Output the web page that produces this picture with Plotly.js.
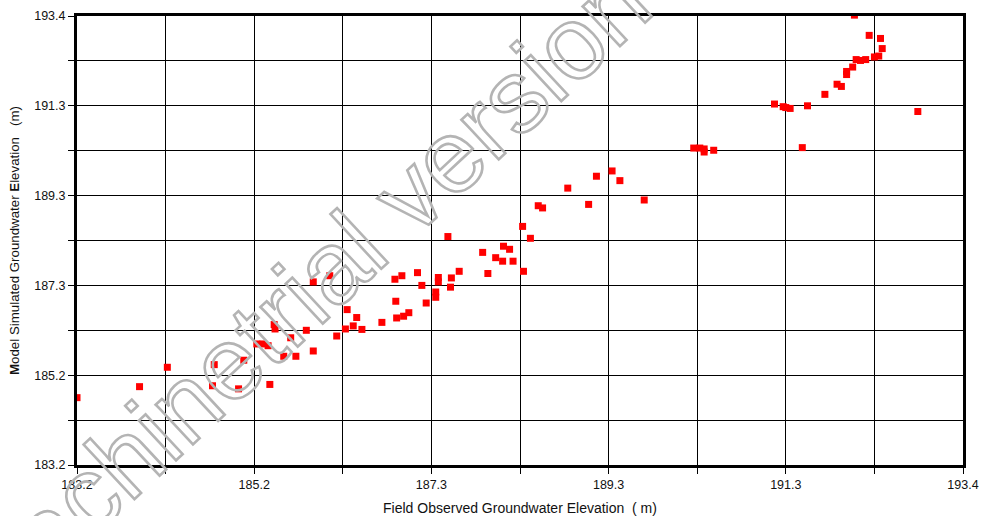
<!DOCTYPE html>
<html>
<head>
<meta charset="utf-8">
<script src="https://cdn.plot.ly/plotly-3.0.1.min.js"></script>
<style>
  html, body { margin: 0; padding: 0; background: #fff; }
  #chart { width: 982px; height: 516px; }
  .annotation-text { fill: none !important; stroke: #b4b4b4 !important; stroke-width: 2.6px !important; }
</style>
</head>
<body>
<div id="chart"></div>
<script>
// Field observed groundwater elevation (m)
const observed = [
  183.20, 183.92, 184.24, 184.76, 184.78, 185.06, 185.12, 185.27, 185.34, 185.40,
  185.42, 185.47, 185.48, 185.58, 185.66, 185.72, 185.84, 185.92, 185.92, 186.11,
  186.19, 186.29, 186.31, 186.38, 186.42, 186.48, 186.71, 186.86, 186.94, 186.87,
  186.88, 186.96, 187.02, 187.12, 187.17, 187.22, 187.33, 187.33, 187.36, 187.36,
  187.47, 187.50, 187.51, 187.60, 187.87, 187.93, 188.02, 188.10, 188.11, 188.18,
  188.22, 188.33, 188.34, 188.42, 188.51, 188.56, 188.85, 189.09, 189.18, 189.36,
  189.45, 189.73, 190.30, 190.37, 190.42, 190.42, 190.53, 191.23, 191.33, 191.36,
  191.41, 191.55, 191.61, 191.81, 191.95, 192.00, 192.06, 192.06, 192.13, 192.17,
  192.22, 192.28, 192.38, 192.43, 192.32, 192.45, 192.47, 192.15, 192.88
];
// Model simulated groundwater elevation (m)
const simulated = [
  184.73, 184.98, 185.42, 185.00, 185.48, 184.93, 185.58, 185.95, 185.95, 185.91,
  185.03, 186.39, 186.29, 185.67, 186.09, 185.67, 186.26, 185.79, 187.36, 187.50,
  186.13, 186.29, 186.73, 186.36, 186.55, 186.28, 186.44, 187.42, 187.50, 186.92,
  186.54, 186.58, 186.66, 187.57, 187.28, 186.88, 187.13, 187.01, 187.46, 187.36,
  188.39, 187.24, 187.45, 187.60, 188.03, 187.55, 187.91, 187.83, 188.17, 188.10,
  187.83, 188.62, 187.60, 188.35, 189.09, 189.04, 189.49, 189.12, 189.76, 189.88,
  189.66, 189.22, 190.40, 190.40, 190.38, 190.31, 190.35, 191.40, 191.34, 191.32,
  191.30, 190.41, 191.36, 191.62, 191.85, 191.80, 192.14, 192.07, 192.24, 192.41,
  192.39, 192.41, 192.47, 192.49, 192.96, 192.89, 192.66, 193.42, 191.23
];
// Axis gridline positions and tick labels
const gridVals = [183.2, 184.22, 185.24, 186.26, 187.28, 188.3, 189.32, 190.34, 191.36, 192.38, 193.4];
const gridText = ['183.2', '', '185.2', '', '187.3', '', '189.3', '', '191.3', '', '193.4'];
const axisRange = [183.2, 193.4];
const xTitle = 'Field Observed Groundwater Elevation\u00a0\u00a0(\u00a0m)';
const yTitle = '<b>M</b>odel Simulated Groundwater <b>E</b>levation\u00a0\u00a0\u00a0(m)';
const watermark = 'machinetrial version';

const font = 'Liberation Sans, Arial, sans-serif';

const axisBase = {
  range: axisRange,
  tickmode: 'array',
  tickvals: gridVals,
  ticktext: gridText,
  showgrid: true,
  gridcolor: '#000',
  gridwidth: 1,
  zeroline: false,
  showline: true,
  linecolor: '#000',
  linewidth: 3,
  mirror: true,
  ticks: 'outside',
  ticklen: 6,
  tickwidth: 1,
  tickcolor: '#000',
  tickfont: {family: font, size: 12.5, color: '#111'},
  fixedrange: true
};

const trace = {
  type: 'scatter',
  mode: 'markers',
  x: observed,
  y: simulated,
  marker: {symbol: 'square', size: 7, color: '#ff0000', line: {width: 0}},
  cliponaxis: true,
  hoverinfo: 'x+y'
};

const layout = {
  width: 982,
  height: 516,
  margin: {l: 77, r: 19, t: 16, b: 51},
  paper_bgcolor: '#fff',
  plot_bgcolor: '#fff',
  showlegend: false,
  xaxis: Object.assign({}, axisBase, {
    title: {text: xTitle, font: {family: font, size: 14, color: '#111'}, standoff: 13}
  }),
  yaxis: Object.assign({}, axisBase, {
    title: {text: yTitle, font: {family: font, size: 13.3, color: '#111'}, standoff: 12}
  }),
  annotations: [{
    xref: 'paper', yref: 'paper',
    x: 0.249, y: 0.370,
    xanchor: 'center', yanchor: 'middle',
    text: watermark,
    textangle: -43,
    showarrow: false,
    font: {family: font, size: 103, color: '#b4b4b4'}
  }]
};

Plotly.newPlot('chart', [trace], layout, {displayModeBar: false, staticPlot: true});
</script>
</body>
</html>
